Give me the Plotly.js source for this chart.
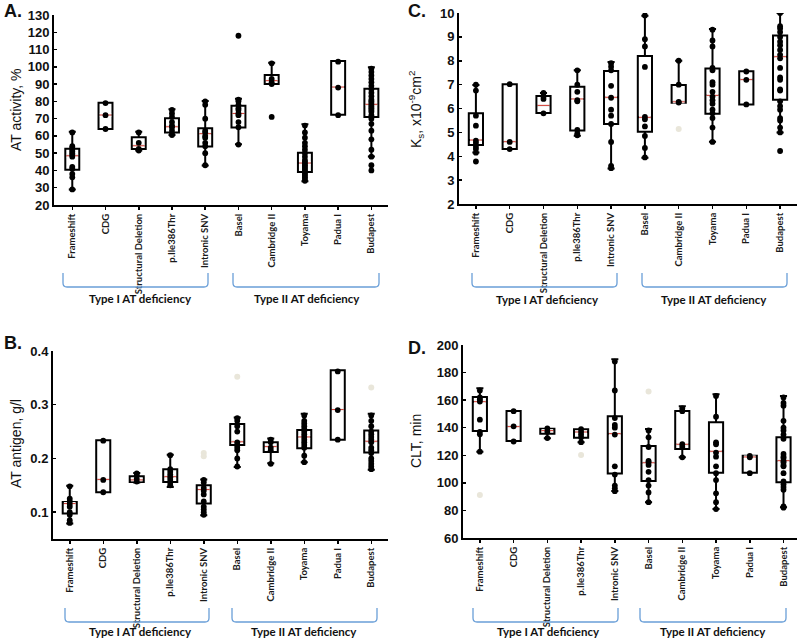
<!DOCTYPE html>
<html>
<head>
<meta charset="utf-8">
<script src="https://cdn.plot.ly/plotly-3.0.1.min.js"></script>
<style>html,body{margin:0;padding:0;background:#fff;}#chart{width:800px;height:640px;}</style>
</head>
<body>
<div id="chart"></div>
<script>
// ---------- DATA ----------
const categories = ['Frameshift','CDG','Structural Deletion','p.Ile386Thr','Intronic SNV','Basel','Cambridge II','Toyama','Padua I','Budapest'];
const groupLabels = ['Type I AT deficiency','Type II AT deficiency'];
const yTitles = ['AT activity, %', 'K<sub>s</sub>, x10<sup>-9</sup>cm<sup>2</sup>', 'AT antigen, g/l', 'CLT, min'];

// Panel A: AT activity, %
const A_q1  = [40.4, 64, 52.4, 62, 53.9, 64.9, 90, 39.1, 72.3, 70.9];
const A_med = [48.5, 72.1, 54.3, 65.3, 61.3, 73, 92, 44.3, 88.3, 78.3];
const A_q3  = [52.6, 79.2, 59.2, 70.2, 64.4, 77.5, 95.3, 50.3, 103.4, 87.3];
const A_lo  = [29, 64, 51.5, 60.5, 42.9, 55.1, 90, 33.7, 72.3, 48.1];
const A_hi  = [62.4, 79.2, 62.4, 75.4, 80.2, 81.5, 102.4, 66.7, 103.4, 99.7];
const A_pts = [
  [62, 54, 53, 52, 51, 50, 49, 48, 42, 41, 38, 36, 29],
  [79, 72, 64],
  [62, 56, 52.5, 51.5],
  [75, 73, 71, 68, 66, 65, 63, 61, 60.5],
  [80, 78, 70, 63, 62, 60, 59, 56, 54, 50, 43],
  [118, 81, 80, 78, 76, 75, 73, 72, 68, 65, 55],
  [102, 93, 91, 90, 71],
  [66, 62, 59, 56, 54, 52, 50, 48, 46, 45, 44, 43, 42, 41, 40, 39, 38, 37, 36, 35, 34],
  [103, 88, 72],
  [99, 97, 95, 93, 91, 89, 87, 85, 83, 81, 80, 79, 78, 77, 76, 75, 74, 72, 70, 67, 63, 58, 52, 48, 43, 40]
];
const A_out = [[],[],[],[],[],[],[],[],[],[]];

// Panel C: Ks, x10^-9 cm^2
const C_q1  = [4.47, 4.3, 5.81, 5.08, 5.35, 5.03, 6.24, 5.78, 6.17, 6.37];
const C_med = [4.68, 4.61, 6.13, 6.4, 6.47, 5.63, 6.28, 6.55, 7.21, 8.17];
const C_q3  = [5.8, 7.02, 6.52, 6.91, 7.57, 8.2, 6.98, 7.68, 7.56, 9.06];
const C_lo  = [4.16, 4.3, 5.81, 4.86, 3.49, 3.94, 6.24, 4.61, 6.17, 5.0];
const C_hi  = [6.98, 7.02, 6.65, 7.6, 7.95, 9.89, 8.0, 9.33, 7.56, 10.0];
const C_pts = [
  [7.0, 6.75, 5.7, 5.28, 4.65, 4.55, 4.4, 4.3, 4.15, 3.78],
  [7.02, 4.6, 4.3],
  [6.65, 6.5, 6.4, 5.8],
  [7.6, 7.0, 6.7, 6.35, 6.3, 5.1, 4.95, 4.88],
  [7.9, 7.75, 7.6, 6.95, 6.45, 5.95, 5.7, 5.35, 4.6, 3.6, 3.5],
  [9.9, 8.9, 8.6, 7.74, 5.65, 5.55, 5.25, 4.85, 4.35, 3.95],
  [8.0, 7.0, 6.28, 6.25],
  [9.3, 8.85, 8.6, 7.7, 7.6, 7.1, 7.0, 6.7, 6.5, 6.35, 6.2, 5.95, 5.8, 5.6, 5.2, 4.6],
  [7.55, 7.2, 6.17],
  [10.0, 9.45, 9.35, 9.2, 9.0, 8.8, 8.65, 8.45, 8.25, 8.1, 7.7, 7.3, 7.2, 6.8, 6.75, 6.3, 6.1, 5.95, 5.6, 5.5, 5.2, 5.0, 4.22]
];
const C_out = [[],[],[],[],[],[],[5.14],[],[],[]];

// Panel B: AT antigen, g/l
const B_q1  = [0.0975, 0.137, 0.156, 0.156, 0.116, 0.225, 0.212, 0.219, 0.235, 0.211];
const B_med = [0.116, 0.161, 0.16, 0.166, 0.142, 0.231, 0.222, 0.24, 0.291, 0.232];
const B_q3  = [0.119, 0.234, 0.167, 0.18, 0.15, 0.264, 0.23, 0.253, 0.364, 0.252];
const B_lo  = [0.079, 0.137, 0.155, 0.147, 0.094, 0.184, 0.191, 0.193, 0.235, 0.179];
const B_hi  = [0.149, 0.234, 0.173, 0.207, 0.161, 0.276, 0.237, 0.283, 0.364, 0.283];
const B_pts = [
  [0.148, 0.125, 0.12, 0.115, 0.11, 0.1, 0.095, 0.085, 0.08],
  [0.233, 0.16, 0.137],
  [0.172, 0.168, 0.162, 0.157],
  [0.206, 0.18, 0.175, 0.17, 0.165, 0.16, 0.155, 0.15],
  [0.16, 0.155, 0.145, 0.14, 0.133, 0.12, 0.11, 0.105, 0.1, 0.095],
  [0.275, 0.27, 0.26, 0.25, 0.23, 0.225, 0.22, 0.215, 0.2, 0.185],
  [0.235, 0.23, 0.22, 0.215, 0.19],
  [0.28, 0.27, 0.265, 0.26, 0.255, 0.25, 0.245, 0.24, 0.235, 0.23, 0.225, 0.22, 0.205, 0.193],
  [0.362, 0.29, 0.235],
  [0.28, 0.27, 0.26, 0.25, 0.245, 0.24, 0.235, 0.23, 0.22, 0.215, 0.21, 0.2, 0.195, 0.19, 0.185, 0.18]
];
const B_out = [[],[],[],[],[0.21, 0.204],[0.352],[],[],[],[0.332]];

// Panel D: CLT, min
const D_q1  = [137.6, 130.4, 135.7, 132.8, 106.7, 101.4, 124.6, 107.4, 107.4, 100.4];
const D_med = [158.9, 140.8, 137.9, 136.9, 135.7, 114.6, 128, 122.9, 118.8, 116.1];
const D_q3  = [162.3, 152.1, 139.3, 138.8, 148.3, 126.7, 152.1, 143.9, 119.7, 133];
const D_lo  = [122.6, 130.4, 132.3, 129.4, 94.1, 85.9, 118.5, 81, 107.4, 82.3];
const D_hi  = [168.6, 152.1, 139.3, 138.8, 189.6, 139.1, 155.5, 164.2, 119.7, 163];
const D_pts = [
  [167, 162, 160.6, 159, 145.8, 137, 135.2, 122.6],
  [152, 141, 130],
  [139.5, 137, 132.5],
  [139, 137, 135, 133, 129.5],
  [188, 167, 147, 142, 140, 135, 112, 106, 98, 96, 94],
  [138, 133, 126, 116, 115, 113, 108, 102, 98, 93, 86],
  [154, 152, 128, 126, 118.5],
  [163, 148, 129.4, 128, 122, 119, 112, 107, 102, 92.4, 86, 81],
  [119.5, 118.5, 107],
  [162, 158, 156, 145, 140, 138, 135, 132, 121, 119, 118, 116, 115, 113, 112, 107, 101, 99, 97, 95, 83, 82]
];
const D_out = [[91.2],[],[],[120.2],[],[166.2],[],[],[],[]];

// ---------- BUILD ----------
const traces = [];
function addPanel(n, q1, med, q3, lo, hi, pts, out) {
  const xa = n === 1 ? 'x' : 'x' + n;
  const ya = n === 1 ? 'y' : 'y' + n;
  traces.push({
    type: 'box', x: categories, q1: q1, median: med, q3: q3,
    lowerfence: lo, upperfence: hi, xaxis: xa, yaxis: ya,
    fillcolor: 'white', line: {color: '#000', width: 2},
    width: 0.42, whiskerwidth: 0.5, boxpoints: false,
    hoverinfo: 'skip', showlegend: false
  });
  // white cover for default median, then red median
  traces.push({
    type: 'scatter', mode: 'markers', x: categories, y: med, xaxis: xa, yaxis: ya,
    marker: {symbol: 'line-ew', size: 8.4, line: {color: '#fff', width: 3}},
    hoverinfo: 'skip', showlegend: false
  });
  traces.push({
    type: 'scatter', mode: 'markers', x: categories, y: med, xaxis: xa, yaxis: ya,
    marker: {symbol: 'line-ew', size: 8.4, line: {color: '#d2453c', width: 1.1}},
    hoverinfo: 'skip', showlegend: false
  });
  const ox = [], oy = [];
  out.forEach((arr, i) => arr.forEach(v => { ox.push(categories[i]); oy.push(v); }));
  traces.push({
    type: 'scatter', mode: 'markers', x: ox, y: oy, xaxis: xa, yaxis: ya,
    marker: {color: '#e9e6da', size: 6},
    hoverinfo: 'skip', showlegend: false
  });
  const px = [], py = [];
  pts.forEach((arr, i) => arr.forEach(v => { px.push(categories[i]); py.push(v); }));
  traces.push({
    type: 'scatter', mode: 'markers', x: px, y: py, xaxis: xa, yaxis: ya,
    marker: {color: '#000', size: 5.8},
    hoverinfo: 'skip', showlegend: false
  });
}
addPanel(1, A_q1, A_med, A_q3, A_lo, A_hi, A_pts, A_out);
addPanel(2, C_q1, C_med, C_q3, C_lo, C_hi, C_pts, C_out);
addPanel(3, B_q1, B_med, B_q3, B_lo, B_hi, B_pts, B_out);
addPanel(4, D_q1, D_med, D_q3, D_lo, D_hi, D_pts, D_out);

const W = 800, H = 640;
const PX = x => x / W, PY = y => 1 - y / H;

function xAxis(domain, range, anchor) {
  return {
    domain: domain, anchor: anchor, type: 'category',
    categoryorder: 'array', categoryarray: categories, range: range,
    showline: true, linecolor: '#000', linewidth: 2,
    ticks: 'outside', ticklen: 3, tickwidth: 1.5, tickcolor: '#000',
    tickangle: -90, tickfont: {family: 'Lato, Open Sans, sans-serif', size: 9.5, weight: 'bold', color: '#1a1a1a'},
    showgrid: false, zeroline: false, automargin: false, fixedrange: true
  };
}
const tickFont = {family: 'Liberation Sans, Arial, sans-serif', size: 13, weight: 'bold', color: '#111'};
const titleFont = {family: 'Liberation Sans, Arial, sans-serif', size: 14, color: '#111'};
function yAxis(domain, range, dtick, anchor) {
  return {
    domain: domain, anchor: anchor, range: range, dtick: dtick, tick0: 0,
    showline: true, linecolor: '#000', linewidth: 2,
    ticks: 'inside', ticklen: 3, tickwidth: 1.5, tickcolor: '#000',
    tickfont: tickFont,
    showgrid: false, zeroline: false, automargin: false, fixedrange: true
  };
}

const layout = {
  width: W, height: H, margin: {l: 0, r: 0, t: 0, b: 0},
  paper_bgcolor: '#fff', plot_bgcolor: '#fff', showlegend: false,
  xaxis:  xAxis([PX(54), PX(388)], [-0.55, 9.5], 'y'),
  yaxis:  yAxis([PY(205), PY(15)], [20, 130], 10, 'x'),
  xaxis2: xAxis([PX(459), PX(797)], [-0.5, 9.5], 'y2'),
  yaxis2: yAxis([PY(204), PY(13)], [2, 10], 1, 'x2'),
  xaxis3: xAxis([PX(53), PX(388)], [-0.5, 9.5], 'y3'),
  yaxis3: yAxis([PY(539), PY(351)], [0.05, 0.4], 0.1, 'x3'),
  xaxis4: xAxis([PX(463), PX(797)], [-0.5, 9.4], 'y4'),
  yaxis4: yAxis([PY(538), PY(345)], [60, 200], 20, 'x4'),
  shapes: [], annotations: []
};

// y-axis titles (rotated), centred on each plot's vertical extent
[[0, 16, 110], [1, 416, 110], [2, 16, 444], [3, 416, 441]].forEach(([i, x, y]) => {
  layout.annotations.push({text: yTitles[i], xref: 'paper', yref: 'paper', x: PX(x), y: PY(y),
    xanchor: 'center', yanchor: 'middle', textangle: -90, showarrow: false, font: titleFont});
});

// panel letters
[['A.', 2, 11], ['C.', 406, 11], ['B.', 2, 343], ['D.', 406, 348]].forEach(([t, x, y]) => {
  layout.annotations.push({text: t, xref: 'paper', yref: 'paper', x: PX(x), y: PY(y),
    xanchor: 'left', yanchor: 'middle', showarrow: false,
    font: {family: 'Liberation Sans, Arial, sans-serif', size: 18, weight: 'bold', color: '#111'}});
});

// group brackets
function bracket(x0, x1, yTop, yBot) {
  const r = 4;
  const p = (x, y) => PX(x) + ',' + PY(y);
  return {type: 'path', xref: 'paper', yref: 'paper',
    path: 'M' + p(x0, yTop) + ' L' + p(x0, yBot - r) + ' Q' + p(x0, yBot) + ' ' + p(x0 + r, yBot) +
          ' L' + p(x1 - r, yBot) + ' Q' + p(x1, yBot) + ' ' + p(x1, yBot - r) + ' L' + p(x1, yTop),
    line: {color: '#6a9fd8', width: 1.3}};
}
const brackets = [
  // [x0, x1, yTop, yBot, textX, textY, label]
  [63, 208, 273, 287, 140, 298, 0], [233, 379, 273, 287, 307, 298, 1],
  [472, 617, 273, 287, 547, 299, 0], [642, 787, 273, 287, 714, 299, 1],
  [65, 209, 608, 622, 140, 631, 0], [232, 377, 608, 622, 304, 631, 1],
  [473, 618, 608, 622, 548, 631, 0], [640, 786, 608, 622, 713, 631, 1]
];
brackets.forEach(b => {
  layout.shapes.push(bracket(b[0], b[1], b[2], b[3]));
  layout.annotations.push({text: groupLabels[b[6]], xref: 'paper', yref: 'paper',
    x: PX(b[4]), y: PY(b[5]), xanchor: 'center', yanchor: 'middle', showarrow: false,
    font: {family: 'Lato, Open Sans, sans-serif', size: 11.5, weight: 'bold', color: '#111'}});
});

Plotly.newPlot('chart', traces, layout, {staticPlot: true, displayModeBar: false});
</script>
</body>
</html>
